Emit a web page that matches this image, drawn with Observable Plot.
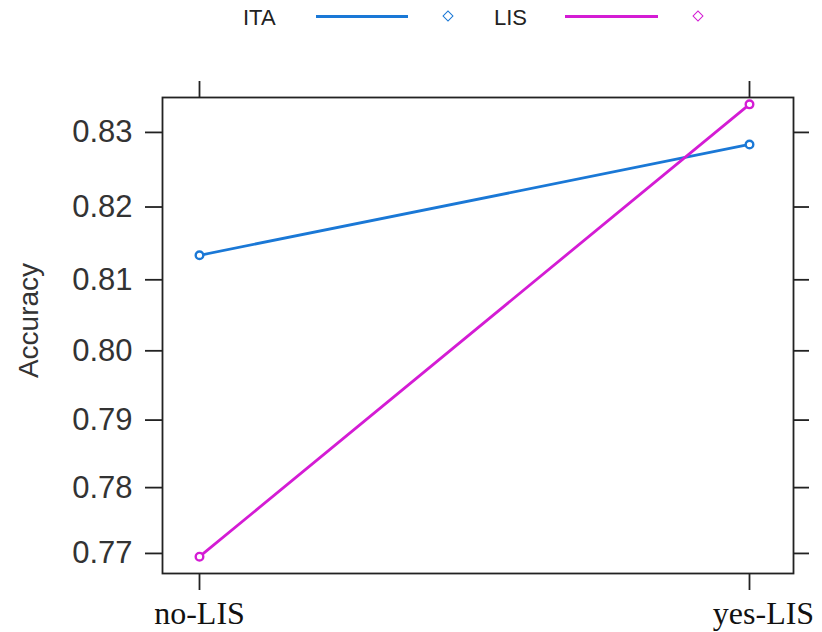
<!DOCTYPE html>
<html>
<head>
<meta charset="utf-8">
<script src="https://cdn.jsdelivr.net/npm/d3@7"></script>
<script src="https://cdn.jsdelivr.net/npm/@observablehq/plot@0.6"></script>
<style>
  body { margin: 0; background: #fff; }
  #legend { position: relative; width: 822px; height: 40px; font-family: "Liberation Sans", Arial, sans-serif; }
  #legend .lab { position: absolute; top: 5px; font-size: 22px; line-height: 26px; color: #222; }
  #legend .ln { position: absolute; top: 15px; height: 3px; }
  #legend .dm { position: absolute; top: 12px; width: 6px; height: 6px; border: 1.5px solid; transform: rotate(45deg); background: #fff; }
</style>
</head>
<body>
<div id="legend"></div>
<div id="chart"></div>
<script>
const categories = ["no-LIS", "yes-LIS"];
const seriesNames = ["ITA", "LIS"];
const itaValues = [0.8134, 0.8284];
const lisValues = [0.7695, 0.8337];
const yTicks = [0.77, 0.78, 0.79, 0.80, 0.81, 0.82, 0.83];
const yLabel = "Accuracy";
const colors = ["#1a78d6", "#d41cd4"];

const data = [];
[itaValues, lisValues].forEach((vals, s) => {
  vals.forEach((v, i) => data.push({series: seriesNames[s], cond: categories[i], acc: v}));
});

// legend
const legend = document.getElementById("legend");
const legendPos = [{lab: 243, l0: 316, l1: 408, d: 444}, {lab: 494, l0: 565, l1: 658, d: 694}];
seriesNames.forEach((name, i) => {
  const p = legendPos[i];
  legend.insertAdjacentHTML("beforeend",
    `<span class="lab" style="left:${p.lab}px">${name}</span>` +
    `<span class="ln" style="left:${p.l0}px;width:${p.l1 - p.l0}px;background:${colors[i]}"></span>` +
    `<span class="dm" style="left:${p.d}px;border-color:${colors[i]}"></span>`);
});

const xTickStyle = {anchor: "bottom", tickSize: 17, tickPadding: 11, fontSize: 32,
  fontFamily: "Liberation Serif, Times New Roman, serif", stroke: "#222", strokeWidth: 1.8, fill: "#111", label: null};

const plot = Plot.plot({
  width: 822,
  height: 592,
  marginTop: 57,
  marginBottom: 59,
  marginLeft: 162,
  marginRight: 29,
  style: {fontFamily: "Liberation Sans, Arial, sans-serif", background: "#fff", overflow: "visible"},
  x: {type: "point", domain: categories, padding: 0.0727, align: 0.4625},
  y: {type: "pow", exponent: 3, domain: [0.7669, 0.8346]},
  color: {domain: seriesNames, range: colors},
  marks: [
    Plot.frame({stroke: "#222", strokeWidth: 1.8}),
    Plot.axisY({ticks: yTicks, tickFormat: d3.format(".2f"), tickSize: 17, tickPadding: 13,
      fontSize: 31, stroke: "#222", strokeWidth: 1.8, fill: "#333", label: null}),
    Plot.axisY({ticks: yTicks, anchor: "right", text: null, tickSize: 15, stroke: "#222", strokeWidth: 1.8, label: null}),
    Plot.axisX({...xTickStyle, ticks: [categories[0]]}),
    Plot.axisX({...xTickStyle, ticks: [categories[1]], tickSize: 0, stroke: null, dx: 14, dy: 17}),
    Plot.axisX({anchor: "bottom", ticks: [categories[1]], text: null, tickSize: 17, stroke: "#222", strokeWidth: 1.8, label: null}),
    Plot.axisX({anchor: "top", text: null, tickSize: 17, stroke: "#222", strokeWidth: 1.8, label: null}),
    Plot.text([yLabel], {text: d => d, frameAnchor: "left", rotate: -90, dx: -133, dy: -15,
      fontSize: 28, fill: "#333", lineAnchor: "middle", textAnchor: "middle"}),
    Plot.line(data, {x: "cond", y: "acc", z: "series", stroke: "series", strokeWidth: 2.8}),
    Plot.dot(data, {x: "cond", y: "acc", stroke: "series", r: 3.8, strokeWidth: 2.4, fill: "white"})
  ]
});
document.getElementById("chart").appendChild(plot);
</script>
</body>
</html>
